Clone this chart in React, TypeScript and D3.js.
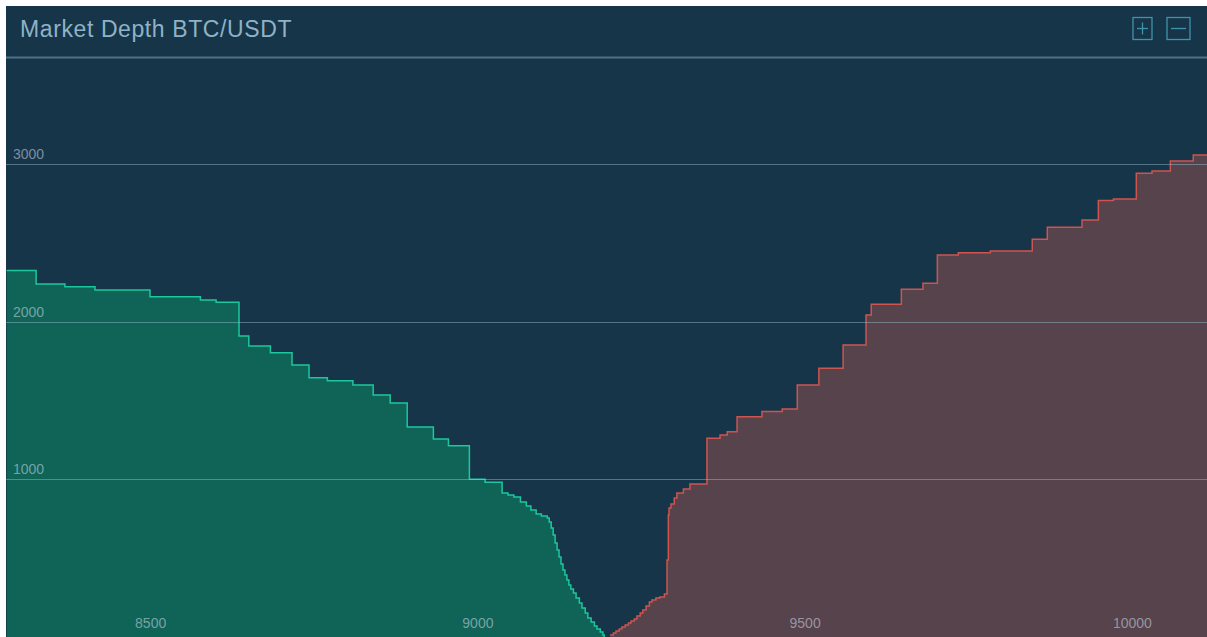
import React from 'react';
import * as d3 from 'd3';

// cumulative bid depth (price where the step starts, amount after it)
const bidPrices = [8280, 8325, 8369, 8415, 8499, 8576, 8600, 8635, 8650, 8683, 8716, 8742, 8770, 8809, 8840, 8866, 8892, 8932, 8955, 8987, 9011,
  9037, 9046, 9055, 9065, 9074, 9081, 9089, 9097, 9106, 9109, 9112, 9115, 9118, 9121, 9124, 9127, 9130, 9133, 9136, 9139, 9142, 9146,
  9150, 9155, 9159, 9164, 9168, 9173, 9178, 9182, 9187, 9191, 9193];
const bidDepth = [2323, 2238, 2221, 2200, 2158, 2137, 2122, 1909, 1845, 1803, 1725, 1644, 1625, 1598, 1535, 1484, 1332, 1256, 1213, 1000, 981,
  913, 900, 888, 856, 831, 805, 780, 767, 755, 729, 691, 647, 596, 552, 507, 463, 425, 393, 361, 330, 304, 279,
  247, 216, 184, 152, 120, 95, 70, 51, 32, 13, 0];

// cumulative ask depth
const askPrices = [9202, 9207, 9211, 9216, 9220, 9225, 9230, 9234, 9239, 9243, 9248, 9252, 9257, 9262, 9266, 9272, 9278, 9285, 9289, 9291,
  9292, 9295, 9300, 9304, 9314, 9324, 9350, 9370, 9381, 9396, 9434, 9465, 9488, 9521, 9558, 9593, 9601, 9647, 9680, 9702, 9734, 9783,
  9847, 9870, 9923, 9948, 9971, 10006, 10030, 10058, 10093, 10115];
const askDepth = [13, 25, 38, 51, 63, 76, 89, 101, 114, 133, 152, 171, 197, 222, 235, 247, 254, 273, 488, 774,
  818, 843, 881, 913, 938, 970, 1260, 1281, 1302, 1397, 1429, 1446, 1598, 1704, 1852, 2042, 2110, 2205, 2243, 2422, 2437, 2448,
  2522, 2598, 2644, 2767, 2777, 2940, 2955, 3018, 3056, 3056];

const xTicks = [8500, 9000, 9500, 10000];
const yTicks = [1000, 2000, 3000];

const W = 1207;
const H = 637;
const left = 6;
const top = 58;

type Pt = [number, number];

export default function App() {
  const x = d3.scaleLinear().domain([8279, 10114]).range([left, W]);
  const y = d3.scaleLinear().domain([0, 3671]).range([H, top]);

  const bids: Pt[] = bidPrices.map((p, i) => [p, bidDepth[i]]);
  const asks: Pt[] = askPrices.map((p, i) => [p, askDepth[i]]);

  const area = d3.area<Pt>()
    .x((d) => x(d[0]))
    .y0(y(0))
    .y1((d) => y(d[1]))
    .curve(d3.curveStepAfter);
  const line = d3.line<Pt>()
    .x((d) => x(d[0]))
    .y((d) => y(d[1]))
    .curve(d3.curveStepAfter);

  const font = '"Liberation Sans", Arial, sans-serif';

  return (
    <svg width={W} height={H} style={{ position: 'absolute', left: 0, top: 0 }}>
      <defs>
        <clipPath id="plot">
          <rect x={left} y={top} width={W - left} height={H - top} />
        </clipPath>
      </defs>
      <rect x={left} y={6} width={W - left} height={H - 6} fill="#163549" />

      <text x={20} y={37} fontFamily={font} fontSize={23} letterSpacing={0.6} fill="#8fb2c6">
        Market Depth BTC/USDT
      </text>
      <line x1={left} x2={W} y1={57.5} y2={57.5} stroke="#4d7386" strokeWidth={2} />

      <g fill="none" stroke="#3f93aa" strokeWidth={1.3}>
        <rect x={1133} y={17.5} width={19} height={22} />
        <line x1={1137} x2={1148} y1={28.5} y2={28.5} />
        <line x1={1142.5} x2={1142.5} y1={22.5} y2={34.5} />
        <rect x={1167} y={17.5} width={23} height={22} />
        <line x1={1171} x2={1186} y1={28.5} y2={28.5} />
      </g>

      <g clipPath="url(#plot)">
        <path d={area(bids) || ''} fill="#0f6357" />
        <path d={area(asks) || ''} fill="#56434c" />
        <path d={line(bids) || ''} fill="none" stroke="#1cc79c" strokeWidth={1.5} />
        <path d={line(asks) || ''} fill="none" stroke="#cf5450" strokeWidth={1.5} />

        {yTicks.map((t) => (
          <line key={t} x1={left} x2={W} y1={Math.round(y(t)) + 0.5} y2={Math.round(y(t)) + 0.5}
            stroke="#9cc3d6" strokeOpacity={0.45} strokeWidth={1} />
        ))}
        {yTicks.map((t) => (
          <text key={'l' + t} x={13} y={y(t) - 5} fontFamily={font} fontSize={14}
            fill="#d2dde6" fillOpacity={0.55}>{t}</text>
        ))}
        {xTicks.map((t) => (
          <text key={'x' + t} x={x(t)} y={628} textAnchor="middle" fontFamily={font} fontSize={14}
            fill="#d2dde6" fillOpacity={0.55}>{t}</text>
        ))}
      </g>
    </svg>
  );
}
